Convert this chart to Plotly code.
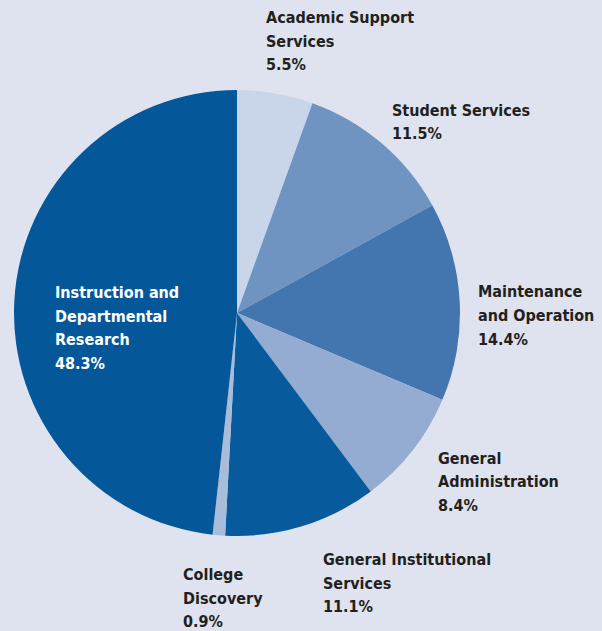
import plotly.graph_objects as go

W, H = 602, 631

categories = ["Academic Support Services", "Student Services", "Maintenance and Operation",
              "General Administration", "General Institutional Services", "College Discovery",
              "Instruction and Departmental Research"]
values = [5.5, 11.5, 14.4, 8.4, 11.1, 0.9, 48.3]
label_lines = [["Academic Support", "Services"], ["Student Services"], ["Maintenance", "and Operation"],
               ["General", "Administration"], ["General Institutional", "Services"],
               ["College", "Discovery"], ["Instruction and", "Departmental", "Research"]]
colors = ["#c9d5e9", "#7094c2", "#4376ae", "#94abd2", "#075b9c", "#a9bddb", "#04589a"]

# label anchor: left x and first-line center y (pixels)
label_pos = [(265, 17), (391, 109), (477, 291), (437, 457), (322, 558.5), (182, 573.5), (54, 291.5)]
label_col = ["#231f20"] * 6 + ["#ffffff"]
LINE = 23.5

cx, cy, r = 237, 313, 223

fig = go.Figure(go.Pie(
    labels=categories, values=values, sort=False, direction="clockwise", rotation=0,
    marker=dict(colors=colors, line=dict(width=0)), textinfo="none", hoverinfo="label+percent",
    domain=dict(x=[(cx - r) / W, (cx + r) / W], y=[(H - cy - r) / H, (H - cy + r) / H]),
    showlegend=False,
))

font_family = "DejaVu Sans Condensed, Liberation Sans Narrow, sans-serif"
for lines, v, (px, py), col in zip(label_lines, values, label_pos, label_col):
    texts = [f"<b>{l}</b>" for l in lines] + [f"<b>{v}%</b>"]
    for i, t in enumerate(texts):
        yc = py + i * LINE + 1
        fig.add_annotation(x=px / W, y=1 - yc / H, xref="paper", yref="paper",
                           xanchor="left", yanchor="middle", align="left", showarrow=False,
                           text=t, font=dict(family=font_family, size=16, color=col),
                           borderpad=0)

fig.update_layout(width=W, height=H, margin=dict(l=0, r=0, t=0, b=0),
                  paper_bgcolor="#dee3ef", plot_bgcolor="#dee3ef")
fig.write_html("out.html", config={"displayModeBar": False},
               post_script="document.body.style.margin='0';document.body.style.overflow='hidden';")
